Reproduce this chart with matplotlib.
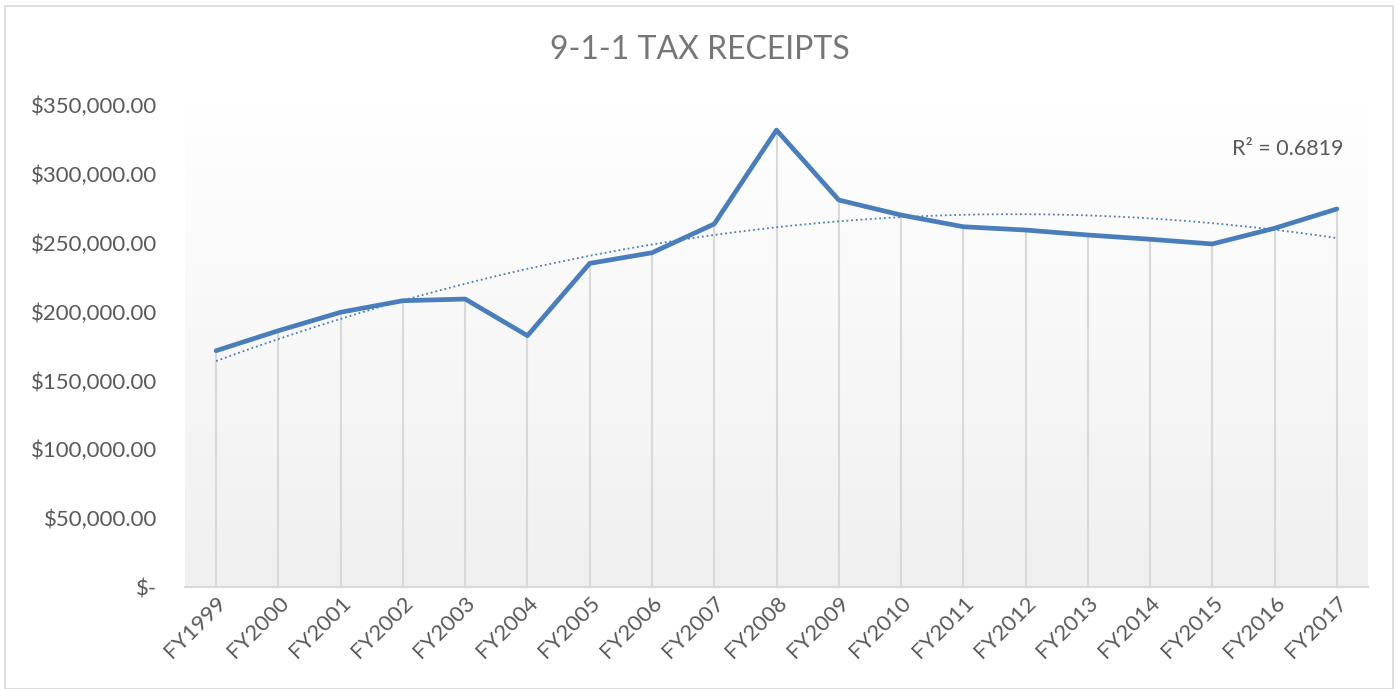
import numpy as np
import matplotlib
matplotlib.use("Agg")
import matplotlib.pyplot as plt
from matplotlib.patches import Rectangle
from matplotlib.ticker import FuncFormatter

plt.rcParams['font.family'] = ['Lato', 'DejaVu Sans']

categories = ["FY1999", "FY2000", "FY2001", "FY2002", "FY2003", "FY2004", "FY2005",
              "FY2006", "FY2007", "FY2008", "FY2009", "FY2010", "FY2011", "FY2012",
              "FY2013", "FY2014", "FY2015", "FY2016", "FY2017"]
receipts = [171600, 186100, 199500, 207900, 209100, 182500, 235000,
            242700, 263600, 331800, 281000, 270100, 261600, 259200,
            255600, 252500, 249100, 260500, 274500]
r2_label = "R² = 0.6819"
title = "9-1-1 TAX RECEIPTS"

fig = plt.figure(figsize=(14, 6.89), dpi=100)
fig.patch.set_facecolor("white")
fig.add_artist(Rectangle((5 / 1400, 0), 1388 / 1400, 683 / 689,
                         transform=fig.transFigure, fill=False,
                         edgecolor="#d9d9d9", linewidth=1.2))

ax = fig.add_axes([185 / 1400, 1 - 587 / 689, (1368 - 185) / 1400, (587 - 105) / 689])
ax.set_facecolor("none")

x = np.arange(len(categories))
ax.set_xlim(-0.5, len(categories) - 0.5)
ax.set_ylim(0, 350000)

# gradient background
grad = np.linspace(1.0, 0.0, 256).reshape(-1, 1)
top = np.array([1.0, 1.0, 1.0])
bot = np.array([0xf0, 0xf0, 0xf0]) / 255.0
img = top * grad[..., None] + bot * (1 - grad[..., None])
img = img.reshape(256, 1, 3)
ax.imshow(img, aspect="auto", extent=(-0.5, len(categories) - 0.5, 0, 350000),
          zorder=0, origin="upper")

# drop lines
ax.vlines(x, 0, receipts, color="#d9d9d9", linewidth=1.5, zorder=1)

# trendline (polynomial order 2)
coef = np.polyfit(x, receipts, 2)
xt = np.linspace(0, len(categories) - 1, 300)
ax.plot(xt, np.polyval(coef, xt), linestyle=(0, (1, 1.6)), color="#4a7ebb",
        linewidth=1.3, zorder=2)

# main line
ax.plot(x, receipts, color="#4a7ebb", linewidth=3.4, solid_joinstyle="round",
        solid_capstyle="round", zorder=3)

fig.text(1343 / 1400, 1 - 149 / 689, r2_label, fontsize=15.5, color="#595959",
         ha="right", va="center")

for s in ["top", "right", "left"]:
    ax.spines[s].set_visible(False)
ax.spines["bottom"].set_color("#d9d9d9")
ax.spines["bottom"].set_linewidth(1.5)

ax.set_xticks(x)
ax.set_xticklabels(categories, rotation=45, ha="right", rotation_mode="anchor",
                   fontsize=16, color="#595959")
ax.set_yticks(np.arange(0, 350001, 50000))
ax.yaxis.set_major_formatter(FuncFormatter(
    lambda v, p: "$-" if v == 0 else "${:,.2f}".format(v)))
ax.tick_params(axis="y", length=0, labelsize=16, labelcolor="#595959", pad=20)
ax.tick_params(axis="x", length=0, pad=4)

fig.text(700 / 1400, 1 - 50 / 689, title, ha="center", va="center",
         fontsize=23, color="#767676")

fig.savefig("out.png", dpi=100)
